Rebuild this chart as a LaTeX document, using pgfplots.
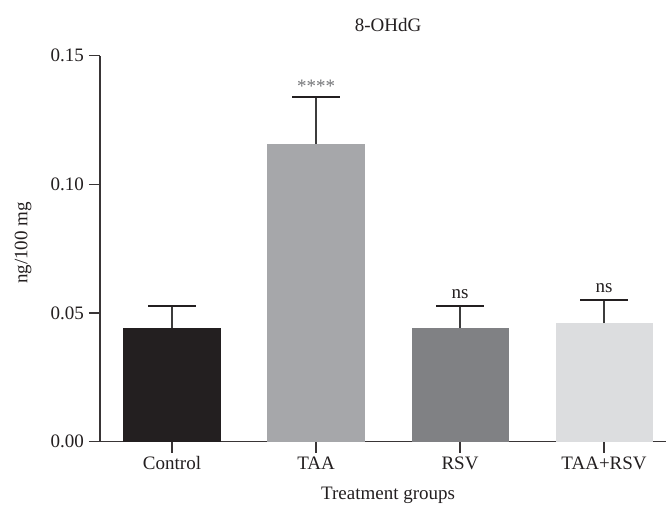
\documentclass[border=0pt]{standalone}
\usepackage{fontspec}
\setmainfont{Liberation Serif}
\usepackage{pgfplots}
\pgfplotsset{compat=1.18}

\definecolor{cctrl}{HTML}{231F20}
\definecolor{ctaa}{HTML}{A6A7AA}
\definecolor{crsv}{HTML}{808184}
\definecolor{cboth}{HTML}{DCDDDF}
\definecolor{txt}{HTML}{231F20}
\definecolor{errc}{HTML}{3C3C3C}

\begin{document}
\begin{tikzpicture}
\useasboundingbox (0,0) rectangle (666pt,508pt);
\begin{axis}[
  at={(100pt,66.3pt)}, anchor=south west,
  scale only axis, width=566pt, height=386pt,
  xmin=-0.5, xmax=3.43, ymin=0, ymax=0.15,
  axis lines=left, axis line style={-, line width=1.2pt, color=txt!90},
  tick align=outside, major tick length=11pt,
  tick style={line width=1.2pt, color=txt!90},
  xtick={0,1,2,3}, xticklabels={Control,TAA,RSV,TAA+RSV},
  ytick={0,0.05,0.10,0.15},
  yticklabels={0.00,0.05,0.10,0.15},
  tick label style={font=\fontsize{19}{19}\selectfont, text=txt},
  xticklabel style={text height=13pt},
  yticklabel style={xshift=-1.5pt},
  /pgf/number format/assume math mode=true,
  ybar, bar width=0.674, bar shift=0pt,
  error bars/y dir=plus, error bars/y explicit,
  error bars/error bar style={line width=1.2pt, color=errc},
  error bars/error mark options={line width=2pt, mark size=24pt, color=txt, rotate=90},
  clip=false,
]
\addplot[fill=cctrl, draw=none] coordinates {(0,0.0442) +- (0,0.0087)};
\addplot[fill=ctaa, draw=none] coordinates {(1,0.1158) +- (0,0.0181)};
\addplot[fill=crsv, draw=none] coordinates {(2,0.0442) +- (0,0.0087)};
\addplot[fill=cboth, draw=none] coordinates {(3,0.0461) +- (0,0.0088)};

\node[anchor=center, text=crsv!90!black, font=\fontsize{19}{19}\selectfont] at (axis cs:1,0.1382) {****};
\node[anchor=base, text=txt, font=\fontsize{19}{19}\selectfont] at (axis cs:2,0.0558) {ns};
\node[anchor=base, text=txt, font=\fontsize{19}{19}\selectfont] at (axis cs:3,0.0578) {ns};

\node[anchor=base, text=txt, font=\fontsize{19}{19}\selectfont] at (axis cs:1.5,0.15) [yshift=23.7pt] {8-OHdG};
\node[anchor=base, text=txt, font=\fontsize{19}{19}\selectfont] at (axis cs:1.5,0) [yshift=-58pt] {Treatment groups};
\end{axis}
\node[rotate=90, anchor=center, text=txt, font=\fontsize{19}{19}\selectfont] at (23pt,265pt) {ng/100 mg};
\end{tikzpicture}
\end{document}
